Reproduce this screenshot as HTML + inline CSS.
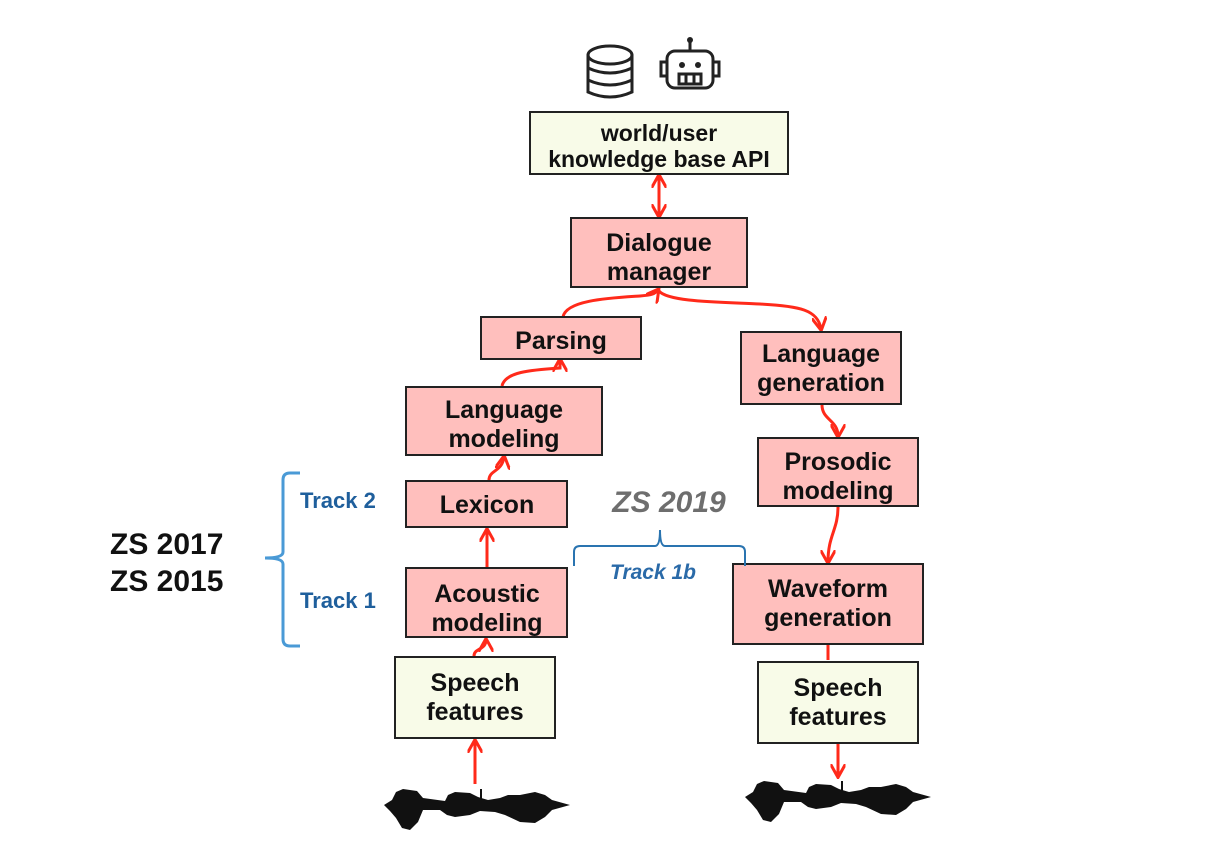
<!DOCTYPE html>
<html><head><meta charset="utf-8"><style>
html,body{margin:0;padding:0;background:#fff;}
svg{display:block;}
text{font-family:"Liberation Sans",Arial,sans-serif;font-weight:bold;}
</style></head><body>
<svg width="1220" height="846" viewBox="0 0 1220 846" xmlns="http://www.w3.org/2000/svg">
<defs>
<marker id="ah" viewBox="0 0 10 10" refX="8" refY="5" markerWidth="5" markerHeight="5" orient="auto-start-reverse">
<path d="M0,0 L9,5 L0,10" fill="none" stroke="#ff2a1a" stroke-width="2"/>
</marker>
</defs>
<g stroke="#ff2a1a" stroke-width="3" fill="none" marker-end="url(#ah)">
<path d="M659,176 L659,216" marker-start="url(#ah)"/>
<path d="M563,317 C566,300 610,298 640,296 C652,295 655,294 658,290"/>
<path d="M659,291 C668,302 720,302 760,304 C800,306 818,310 821,329"/>
<path d="M502,386 C505,372 530,370 560,368 L560,360"/>
<path d="M489,480 C489,470 502,472 504,457"/>
<path d="M487,567 L487,530"/>
<path d="M474,656 C474,648 486,650 486,640"/>
<path d="M475,784 L475,741"/>
<path d="M822,405 C822,420 838,420 838,436"/>
<path d="M838,507 C838,530 828,535 828,562"/>
<path d="M828,644 L828,660" marker-end="none"/>
<path d="M838,744 L838,776"/>
</g>
<g stroke="#222" stroke-width="2">
<rect x="530" y="112" width="258" height="62" fill="#f8fbe8"/>
<rect x="571" y="218" width="176" height="69" fill="#ffbfbd"/>
<rect x="481" y="317" width="160" height="42" fill="#ffbfbd"/>
<rect x="741" y="332" width="160" height="72" fill="#ffbfbd"/>
<rect x="406" y="387" width="196" height="68" fill="#ffbfbd"/>
<rect x="758" y="438" width="160" height="68" fill="#ffbfbd"/>
<rect x="406" y="481" width="161" height="46" fill="#ffbfbd"/>
<rect x="406" y="568" width="161" height="69" fill="#ffbfbd"/>
<rect x="733" y="564" width="190" height="80" fill="#ffbfbd"/>
<rect x="395" y="657" width="160" height="81" fill="#f8fbe8"/>
<rect x="758" y="662" width="160" height="81" fill="#f8fbe8"/>
</g>
<g font-size="23" text-anchor="middle" fill="#111">
<text x="659" y="141">world/user</text>
<text x="659" y="167">knowledge base API</text>
</g>
<g font-size="25" text-anchor="middle" fill="#111">
<text x="659" y="251">Dialogue</text>
<text x="659" y="280">manager</text>
<text x="561" y="349">Parsing</text>
<text x="821" y="362">Language</text>
<text x="821" y="391">generation</text>
<text x="504" y="418">Language</text>
<text x="504" y="447">modeling</text>
<text x="838" y="470">Prosodic</text>
<text x="838" y="499">modeling</text>
<text x="487" y="513">Lexicon</text>
<text x="487" y="602">Acoustic</text>
<text x="487" y="631">modeling</text>
<text x="828" y="597">Waveform</text>
<text x="828" y="626">generation</text>
<text x="475" y="691">Speech</text>
<text x="475" y="720">features</text>
<text x="838" y="696">Speech</text>
<text x="838" y="725">features</text>
</g>
<path d="M300,473 L290,473 Q283,473 283,480 L283,552 Q283,558 265,558 Q283,558 283,564 L283,639 Q283,646 290,646 L300,646" fill="none" stroke="#4a9ad6" stroke-width="3"/>
<text x="300" y="508" font-size="22" fill="#1f5f9c">Track 2</text>
<text x="300" y="608" font-size="22" fill="#1f5f9c">Track 1</text>
<text x="110" y="554" font-size="30" fill="#111">ZS 2017</text>
<text x="110" y="591" font-size="30" fill="#111">ZS 2015</text>
<text x="669" y="512" font-size="30" font-style="italic" fill="#6e6e6e" text-anchor="middle">ZS 2019</text>
<path d="M574,566 L574,552 Q574,546 580,546 L655,546 Q660,546 660,530 Q660,546 665,546 L739,546 Q745,546 745,552 L745,566" fill="none" stroke="#2a74b0" stroke-width="2"/>
<text x="653" y="579" font-size="21" font-style="italic" fill="#2a6aa8" text-anchor="middle">Track 1b</text>
<g fill="none" stroke="#222" stroke-width="3">
<path d="M588,55 L588,92 Q610,102 632,92 L632,55"/>
<ellipse cx="610" cy="55" rx="22" ry="9"/>
<path d="M588,68 Q610,78 632,68 M588,80 Q610,90 632,80"/>
</g>
<g fill="none" stroke="#222" stroke-width="3">
<rect x="667" y="51" width="46" height="37" rx="8"/>
<line x1="690" y1="51" x2="690" y2="42"/>
<rect x="661" y="62" width="6" height="14"/><rect x="713" y="62" width="6" height="14"/>
<rect x="679" y="74" width="22" height="10"/>
<line x1="686" y1="74" x2="686" y2="84"/><line x1="694" y1="74" x2="694" y2="84"/>
</g>
<circle cx="690" cy="40" r="3" fill="#222"/>
<circle cx="682" cy="65" r="3" fill="#222"/><circle cx="698" cy="65" r="3" fill="#222"/>
<g id="wf" fill="#111">
<path d="M384,805 L392,800 L396,792 L403,789 L410,790 L417,791 L423,798 L445,801 L448,795 L455,792 L470,793 L478,797 L488,800 L500,798 L508,795 L520,795 L535,792 L545,795 L552,800 L570,805 L552,810 L545,817 L535,823 L520,822 L505,815 L495,812 L480,811 L470,815 L455,817 L447,815 L440,810 L423,810 L418,822 L410,830 L402,828 L396,818 L390,811 Z"/>
<rect x="480" y="789" width="2" height="10"/>
</g>
<use href="#wf" transform="translate(361,-8)"/>
</svg>
</body></html>
